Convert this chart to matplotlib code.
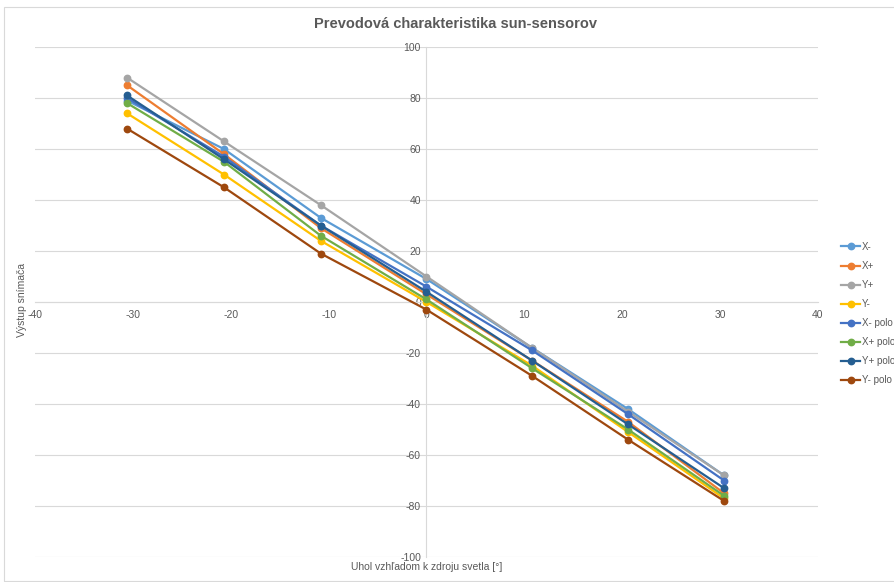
import matplotlib
matplotlib.use("Agg")
import matplotlib.pyplot as plt
from matplotlib.patches import Rectangle
from matplotlib.ticker import FuncFormatter

# measured angle positions [deg]
angles = [-30.6, -20.7, -10.8, 0.0, 10.8, 20.6, 30.4]

x_minus = [79, 60, 33, 9, -18, -42, -68]
x_plus = [85, 58, 29, 3, -23, -47, -75]
y_plus = [88, 63, 38, 10, -18, -43, -68]
y_minus = [74, 50, 24, 0, -25, -51, -77]
x_minus_polo = [80, 57, 30, 6, -19, -44, -70]
x_plus_polo = [78, 55, 26, 1, -26, -50, -76]
y_plus_polo = [81, 56, 30, 4, -23, -48, -73]
y_minus_polo = [68, 45, 19, -3, -29, -54, -78]

series_labels = ["X-", "X+", "Y+", "Y-", "X- polo", "X+ polo", "Y+ polo", "Y- polo"]
series_values = [x_minus, x_plus, y_plus, y_minus,
                 x_minus_polo, x_plus_polo, y_plus_polo, y_minus_polo]
colors = ["#5B9BD5", "#ED7D31", "#A5A5A5", "#FFC000",
          "#4472C4", "#70AD47", "#255E91", "#9E480E"]

x_ticks = [-40, -30, -20, -10, 0, 10, 20, 30, 40]
y_ticks = [-100, -80, -60, -40, -20, 0, 20, 40, 60, 80, 100]

TEXT = "#595959"
GRID = "#d9d9d9"

plt.rcParams["font.family"] = ["Liberation Sans Narrow", "Liberation Sans", "DejaVu Sans"]
plt.rcParams["axes.unicode_minus"] = False

fig = plt.figure(figsize=(8.95, 5.82), dpi=100)
ax = fig.add_axes([35 / 895, 1 - 557 / 582, (818 - 35) / 895, (557 - 47) / 582])

for label, vals, color in zip(series_labels, series_values, colors):
    ax.plot(angles, vals, color=color, linewidth=1.6, marker="o",
            markersize=4.6, label=label, zorder=3)

ax.set_xlim(-40, 40)
ax.set_ylim(-100, 100)
ax.set_xticks(x_ticks)
ax.set_yticks(y_ticks)
ax.xaxis.set_major_formatter(FuncFormatter(lambda v, _: f"{int(v)}"))
ax.yaxis.set_major_formatter(FuncFormatter(lambda v, _: f"{int(v)}"))

ax.spines["left"].set_position(("data", 0))
ax.spines["bottom"].set_position(("data", 0))
ax.spines["top"].set_visible(False)
ax.spines["right"].set_visible(False)
for side in ("left", "bottom"):
    ax.spines[side].set_color(GRID)
    ax.spines[side].set_linewidth(0.8)

ax.tick_params(axis="both", length=0, labelsize=7.5, labelcolor=TEXT)
ax.tick_params(axis="x", pad=6)
ax.tick_params(axis="y", pad=4)
ax.grid(True, axis="y", color=GRID, linewidth=0.8)
ax.set_axisbelow(True)

fig.text(456 / 895, 1 - 24 / 582, "Prevodová charakteristika sun-sensorov",
         ha="center", va="center", fontsize=10.5, fontweight="bold", color=TEXT)
fig.text(22 / 895, 1 - 300 / 582, "Výstup snímača", rotation=90,
         ha="center", va="center", fontsize=7.5, color=TEXT)
fig.text(427 / 895, 1 - 567 / 582, "Uhol vzhľadom k zdroju svetla [°]",
         ha="center", va="center", fontsize=7.5, color=TEXT)

leg = fig.legend(loc="upper left", bbox_to_anchor=(836 / 895, 1 - 237 / 582),
                 frameon=False, fontsize=7, handlelength=2.0,
                 handletextpad=0.15, labelspacing=0.93, borderpad=0)
for text in leg.get_texts():
    text.set_color(TEXT)

fig.patches.append(Rectangle((4 / 895, 0.002), 1, 1 - 8 / 582,
                             transform=fig.transFigure, fill=False,
                             edgecolor=GRID, linewidth=0.8))

fig.savefig("out.png", dpi=100, facecolor="white")
